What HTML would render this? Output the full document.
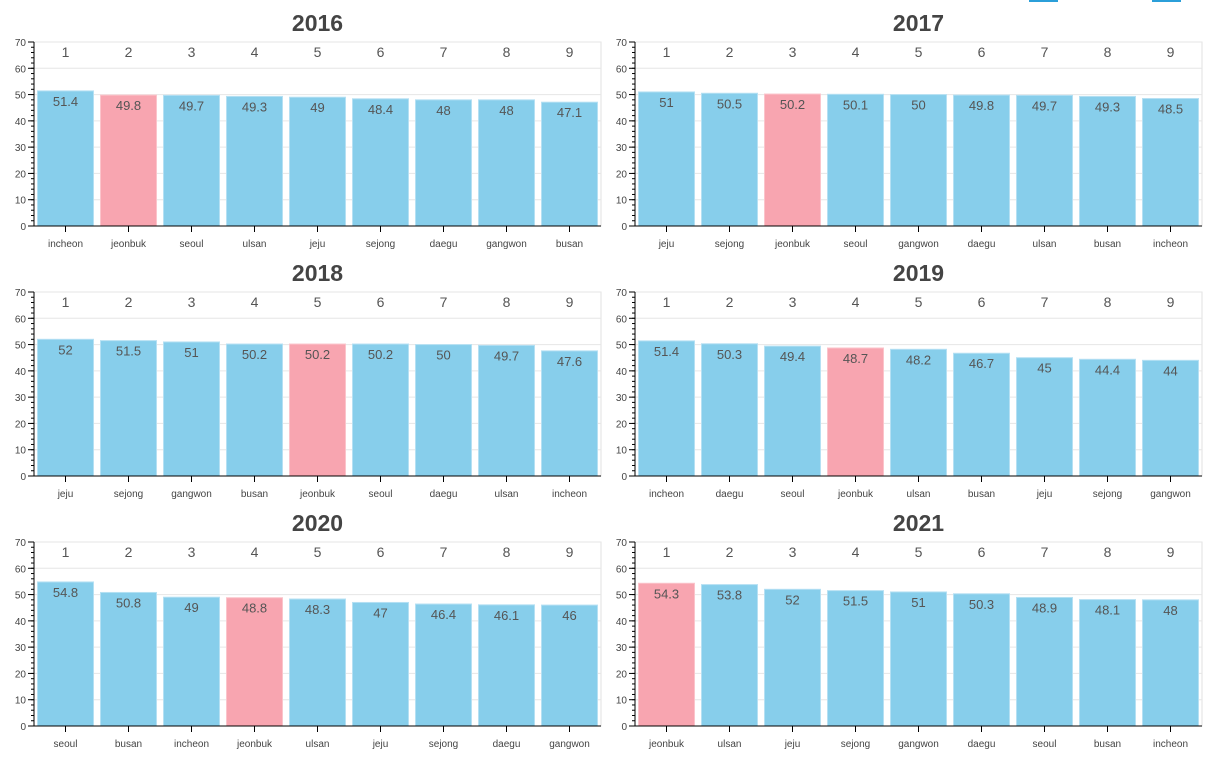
<!DOCTYPE html>
<html><head><meta charset="utf-8"><style>
body{margin:0;background:#fff;width:1212px;height:763px;overflow:hidden;font-family:"Liberation Sans",Arial,sans-serif}
</style></head><body>
<svg id="c" width="1212" height="763" xmlns="http://www.w3.org/2000/svg">
<rect x="1029" y="0" width="29" height="2" fill="#2b9fd9"/>
<rect x="1152" y="0" width="29" height="2" fill="#2b9fd9"/>
</svg>
<script>
const years=["2016","2017","2018","2019","2020","2021"];
const cats2016=["incheon","jeonbuk","seoul","ulsan","jeju","sejong","daegu","gangwon","busan"];
const vals2016=[51.4,49.8,49.7,49.3,49,48.4,48,48,47.1];
const cats2017=["jeju","sejong","jeonbuk","seoul","gangwon","daegu","ulsan","busan","incheon"];
const vals2017=[51,50.5,50.2,50.1,50,49.8,49.7,49.3,48.5];
const cats2018=["jeju","sejong","gangwon","busan","jeonbuk","seoul","daegu","ulsan","incheon"];
const vals2018=[52,51.5,51,50.2,50.2,50.2,50,49.7,47.6];
const cats2019=["incheon","daegu","seoul","jeonbuk","ulsan","busan","jeju","sejong","gangwon"];
const vals2019=[51.4,50.3,49.4,48.7,48.2,46.7,45,44.4,44];
const cats2020=["seoul","busan","incheon","jeonbuk","ulsan","jeju","sejong","daegu","gangwon"];
const vals2020=[54.8,50.8,49,48.8,48.3,47,46.4,46.1,46];
const cats2021=["jeonbuk","ulsan","jeju","sejong","gangwon","daegu","seoul","busan","incheon"];
const vals2021=[54.3,53.8,52,51.5,51,50.3,48.9,48.1,48];
const yTicks=[0,10,20,30,40,50,60,70];
const highlight="jeonbuk";
const allCats=[cats2016,cats2017,cats2018,cats2019,cats2020,cats2021];
const allVals=[vals2016,vals2017,vals2018,vals2019,vals2020,vals2021];
const svg=document.getElementById('c');
const NS="http://www.w3.org/2000/svg";
function mk(t,a,txt){const e=document.createElementNS(NS,t);for(const k in a)e.setAttribute(k,a[k]);if(txt!==undefined)e.textContent=txt;svg.appendChild(e);return e;}
const W=567,H=184,yMax=70;
years.forEach((yr,p)=>{
  const x0=p%2?635:34, y0=42+Math.floor(p/2)*250;
  const ys=v=>y0+H-v/yMax*H;
  const cats=allCats[p],vals=allVals[p],step=W/cats.length;
  const xs=i=>x0+i*step;
  let t=mk('text',{x:x0+W/2,y:y0-11,'text-anchor':'middle','font-size':23,'font-weight':'bold',fill:'#444'},yr);
  
  let fr=mk('rect',{x:x0,y:y0,width:W,height:H,fill:'none',stroke:'#e2e2e2'});
  
  yTicks.forEach(v=>{
    let g=mk('line',{x1:x0,x2:x0+W,y1:ys(v),y2:ys(v),stroke:'#e6e6e6'});
    
    let l=mk('text',{x:x0-8,y:ys(v)+4,'text-anchor':'end','font-size':10,fill:'#444'},v);
    
    mk('line',{x1:x0-6,x2:x0,y1:ys(v),y2:ys(v),stroke:'#000'});
  });
  for(let v=0;v<=yMax;v+=2){mk('line',{x1:x0-3,x2:x0,y1:ys(v),y2:ys(v),stroke:'#000'});}
  vals.forEach((v,i)=>{
    const c=cats[i];
    let b=mk('rect',{x:xs(i)+3.5,y:ys(v),width:step-7,height:ys(0)-ys(v),fill:c===highlight?'#f8a5b0':'#87ceeb',stroke:c===highlight?'#fbc4cb':'#b5e0f3','stroke-width':1});
    
    let vl=mk('text',{x:xs(i)+step/2,y:ys(v)+15,'text-anchor':'middle','font-size':13,fill:'#555'},v);
    
    let rk=mk('text',{x:xs(i)+step/2,y:y0+15,'text-anchor':'middle','font-size':14,fill:'#555'},i+1);
    
    let cl=mk('text',{x:xs(i)+step/2,y:y0+H+21,'text-anchor':'middle','font-size':10,fill:'#444'},c);
    
    mk('line',{x1:xs(i)+step/2,x2:xs(i)+step/2,y1:y0+H,y2:y0+H+6,stroke:'#000'});
  });
  let ya=mk('line',{x1:x0,x2:x0,y1:y0,y2:y0+H,stroke:'#000'});
  
  let xa=mk('line',{x1:x0,x2:x0+W,y1:y0+H,y2:y0+H,stroke:'#000'});
  
});
</script>
</body></html>
